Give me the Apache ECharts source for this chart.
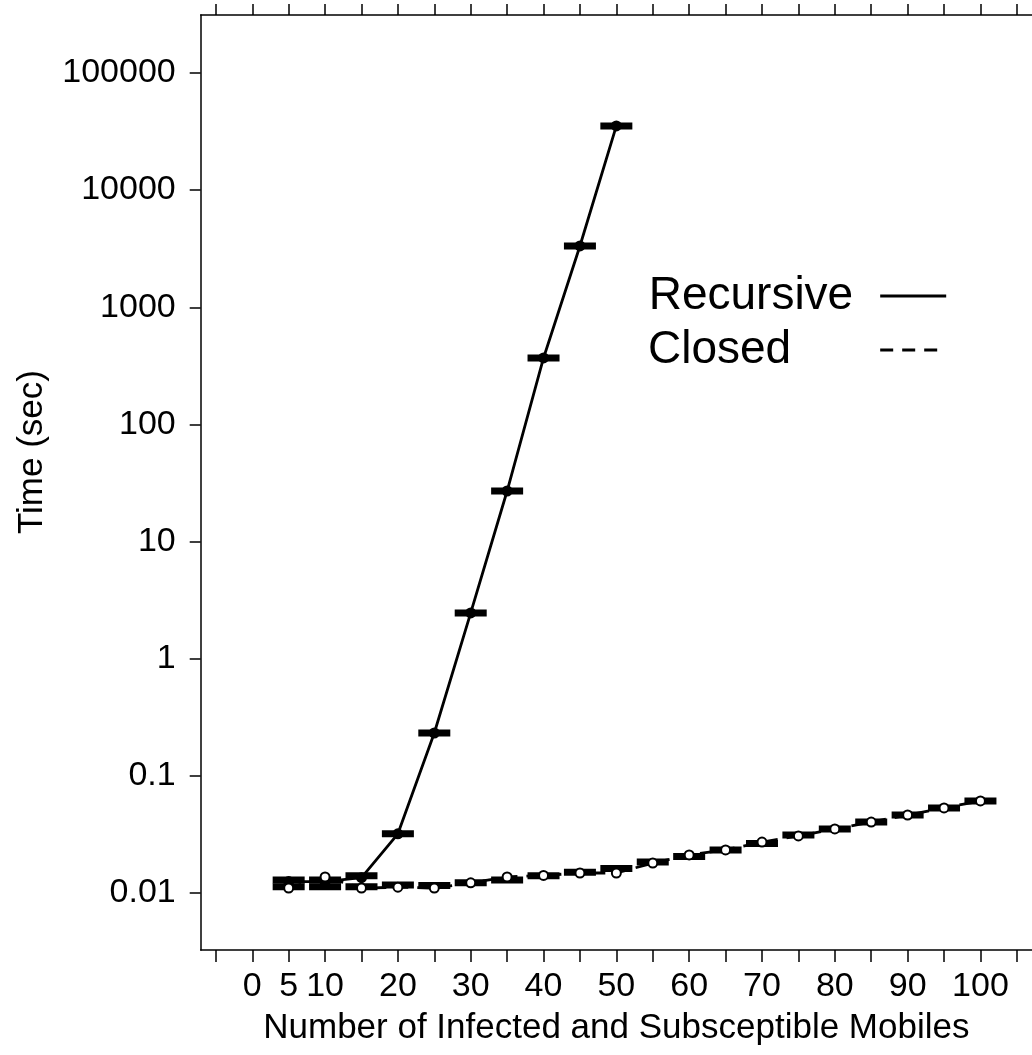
<!DOCTYPE html>
<html>
<head>
<meta charset="utf-8">
<script src="https://cdn.jsdelivr.net/npm/echarts@6/dist/echarts.min.js"></script>
<style>
html,body{margin:0;padding:0;background:#fff;}
#chart{width:1032px;height:1055px;}
</style>
</head>
<body>
<div id="chart"></div>
<script>
// ---- data ----
const recursiveX    = [5, 10, 15, 20, 25, 30, 35, 40, 45, 50];
const recursiveTime = [0.0125, 0.0125, 0.0135, 0.032, 0.232, 2.46, 27, 369, 3336, 35300];
const recursiveBar  = [0.0129, 0.0129, 0.0140, 0.032, 0.232, 2.46, 27, 369, 3336, 35300];

const closedX    = [5, 10, 15, 20, 25, 30, 35, 40, 45, 50, 55, 60, 65, 70, 75, 80, 85, 90, 95, 100];
const closedTime = [0.0110, 0.0137, 0.0110, 0.0112, 0.0110, 0.0122, 0.0137, 0.0141, 0.0148, 0.0148,
                    0.0180, 0.0211, 0.0233, 0.0272, 0.0307, 0.0352, 0.0403, 0.0463, 0.0532, 0.0610];
const closedBar  = [0.0113, 0.0113, 0.0113, 0.0117, 0.0116, 0.0122, 0.0129, 0.0140, 0.0150, 0.0162,
                    0.0184, 0.0205, 0.0233, 0.0264, 0.0313, 0.0352, 0.0403, 0.0463, 0.0532, 0.0610];

const xTickValues  = [-5, 0, 5, 10, 15, 20, 25, 30, 35, 40, 45, 50, 55, 60, 65, 70, 75, 80, 85, 90, 95, 100, 105];
const xLabelValues = [0, 5, 10, 20, 30, 40, 50, 60, 70, 80, 90, 100];
const yTickPowers  = [-2, -1, 0, 1, 2, 3, 4, 5];
const yTickLabels  = ['0.01', '0.1', '1', '10', '100', '1000', '10000', '100000'];

const xTitle = 'Number of Infected and Subsceptible Mobiles';
const yTitle = 'Time (sec)';
const seriesNames = ['Recursive', 'Closed'];

// ---- chart ----
const FONT = '"Liberation Sans", Arial, Helvetica, sans-serif';
const pts = (xs, ys) => xs.map((x, i) => [x, Math.log10(ys[i])]);

const chart = echarts.init(document.getElementById('chart'), null, {renderer: 'canvas'});
const axisLine = {show: true, onZero: false, lineStyle: {color: '#000', width: 1.5}};

chart.setOption({
  animation: false,
  backgroundColor: '#fff',
  grid: {left: 200.7, top: 15, width: 834.7, height: 935, containLabel: false},
  legend: {
    data: [
      {name: seriesNames[0], textStyle: {padding: [0, 22, 0, 0]},
       lineStyle: {width: 2.8, type: 'solid', color: '#000'}, itemStyle: {opacity: 0}},
      {name: seriesNames[1], textStyle: {padding: [0, 84, 0, 0]},
       lineStyle: {width: 2.8, type: [13, 9], color: '#000'}, itemStyle: {opacity: 0}}
    ],
    orient: 'vertical', left: 648, top: 269, align: 'right', padding: 0,
    itemWidth: 66, itemHeight: 3, itemGap: 0,
    selectedMode: false,
    textStyle: {fontSize: 46, lineHeight: 54, color: '#000', fontFamily: FONT}
  },
  xAxis: [{
    type: 'value', position: 'bottom', min: -7.08, max: 107.08,
    axisLine: axisLine,
    axisTick: {show: true, length: 12, customValues: xTickValues, lineStyle: {color: '#000', width: 1.5}},
    axisLabel: {show: true, customValues: xLabelValues, fontSize: 34, margin: 20, color: '#000', fontFamily: FONT},
    splitLine: {show: false},
    name: xTitle, nameLocation: 'middle', nameGap: 61,
    nameTextStyle: {fontSize: 35, color: '#000', fontFamily: FONT}
  }, {
    type: 'value', position: 'top', min: -7.08, max: 107.08,
    axisLine: axisLine,
    axisTick: {show: true, length: 11, customValues: xTickValues, lineStyle: {color: '#000', width: 1.5}},
    axisLabel: {show: false},
    splitLine: {show: false}
  }],
  yAxis: {
    type: 'value', min: -2.487, max: 5.495,
    axisLine: axisLine,
    axisTick: {show: true, length: 11, customValues: yTickPowers, lineStyle: {color: '#000', width: 1.5}},
    axisLabel: {
      show: true, customValues: yTickPowers, fontSize: 34, margin: 25, color: '#000', fontFamily: FONT,
      formatter: v => yTickLabels[yTickPowers.indexOf(Math.round(v))]
    },
    splitLine: {show: false}
  },
  graphic: [{
    type: 'text', x: 32, y: 452, rotation: Math.PI / 2,
    style: {text: yTitle, fontSize: 35, fontFamily: FONT, fill: '#000', align: 'center', verticalAlign: 'middle'}
  }],
  series: [
    {
      name: seriesNames[0], type: 'line', data: pts(recursiveX, recursiveTime),
      symbol: 'circle', symbolSize: 11, color: '#000',
      lineStyle: {color: '#000', width: 2.8}, itemStyle: {color: '#000', opacity: 1}, z: 3
    },
    {
      name: seriesNames[1], type: 'line', data: pts(closedX, closedTime),
      symbol: 'emptyCircle', symbolSize: 9, color: '#000',
      lineStyle: {color: '#000', width: 2.8, type: [13, 9]},
      itemStyle: {color: '#000', borderColor: '#000', borderWidth: 2.2, opacity: 1}, z: 3
    },
    {
      name: 'RecursiveMarks', type: 'scatter', data: pts(recursiveX, recursiveBar),
      symbol: 'rect', symbolSize: [32, 7], itemStyle: {color: '#000', opacity: 1}, z: 2
    },
    {
      name: 'ClosedMarks', type: 'scatter', data: pts(closedX, closedBar),
      symbol: 'rect', symbolSize: [32, 7], itemStyle: {color: '#000', opacity: 1}, z: 2
    }
  ]
});
</script>
</body>
</html>
